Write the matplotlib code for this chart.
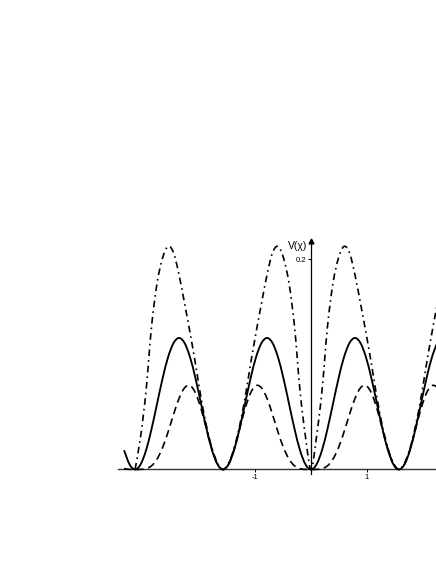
import numpy as np
import matplotlib
matplotlib.use("Agg")
import matplotlib.pyplot as plt
from matplotlib.path import Path
from matplotlib.patches import PathPatch

plt.rcParams['font.family'] = ['Liberation Sans', 'DejaVu Sans']

# sampling grid (chi = k * pi/32)
k_full = np.arange(-34, 25)
k_dd = np.arange(-32, 25)
chi_full = k_full * np.pi / 32
chi_dd = k_dd * np.pi / 32

# solid curve values
v_solid = [0.0183, 0.0048, 0,
           0.0048, 0.0183, 0.0386, 0.0625, 0.0864, 0.1067, 0.1202, 0.125,
           0.1202, 0.1067, 0.0864, 0.0625, 0.0386, 0.0183, 0.0048, 0,
           0.0048, 0.0183, 0.0386, 0.0625, 0.0864, 0.1067, 0.1202, 0.125,
           0.1202, 0.1067, 0.0864, 0.0625, 0.0386, 0.0183, 0.0048,
           0,
           0.0048, 0.0183, 0.0386, 0.0625, 0.0864, 0.1067, 0.1202, 0.125,
           0.1202, 0.1067, 0.0864, 0.0625, 0.0386, 0.0183, 0.0048, 0,
           0.0048, 0.0183, 0.0386, 0.0625, 0.0864, 0.1067, 0.1202, 0.125]

# dashed curve values
v_dashed = [0.0008, 0.0001, 0,
            0.0001, 0.0008, 0.0035, 0.0099, 0.0207, 0.0356, 0.0523, 0.0675,
            0.0776, 0.0797, 0.0726, 0.0576, 0.0382, 0.0190, 0.0051, 0,
            0.0051, 0.0190, 0.0382, 0.0576, 0.0726, 0.0797, 0.0776, 0.0675,
            0.0523, 0.0356, 0.0207, 0.0099, 0.0035, 0.0008, 0.0001,
            0,
            0.0001, 0.0008, 0.0035, 0.0099, 0.0207, 0.0356, 0.0523, 0.0675,
            0.0776, 0.0797, 0.0726, 0.0576, 0.0382, 0.0190, 0.0051, 0,
            0.0051, 0.0190, 0.0382, 0.0576, 0.0726, 0.0797, 0.0776, 0.0675]

# dash-dot curve values
v_dashdot = [0,
             0.031, 0.075, 0.136, 0.177, 0.201, 0.212, 0.206, 0.185,
             0.158, 0.130, 0.100, 0.068, 0.041, 0.020, 0.006, 0,
             0.006, 0.020, 0.041, 0.068, 0.100, 0.130, 0.158, 0.185,
             0.206, 0.212, 0.201, 0.177, 0.136, 0.075, 0.031,
             0,
             0.031, 0.075, 0.136, 0.177, 0.201, 0.212, 0.206, 0.185,
             0.158, 0.130, 0.100, 0.068, 0.041, 0.020, 0.006, 0,
             0.006, 0.020, 0.041, 0.068, 0.100, 0.130, 0.158, 0.185]

x_ticks = [-1, 1]
x_tick_labels = ['-1', '1']
y_ticks = [0.2]
y_tick_labels = ['0.2']


def smooth_path(x, y):
    """Catmull-Rom curve through the given points, as cubic Bezier path."""
    p = np.column_stack([x, y]).astype(float)
    n = len(p)
    verts = [p[0]]
    codes = [Path.MOVETO]
    for i in range(n - 1):
        p0 = p[i - 1] if i > 0 else p[i]
        p1 = p[i]
        p2 = p[i + 1]
        p3 = p[i + 2] if i + 2 < n else p[i + 1]
        c1 = p1 + (p2 - p0) / 6.0
        c2 = p2 - (p3 - p1) / 6.0
        verts += [c1, c2, p2]
        codes += [Path.CURVE4] * 3
    return Path(verts, codes)


fig = plt.figure(figsize=(4.36, 5.64), dpi=100)
ax = fig.add_axes([115 / 436, (564 - 475.8) / 564, 336 / 436, 239.9 / 564])
ax.set_xlim(-3.5, 2.5)
ax.set_ylim(-0.006, 0.222)

ax.add_patch(PathPatch(smooth_path(chi_dd, v_dashdot), fill=False, edgecolor='black',
                       lw=1.2, linestyle=(0, (4, 2.4, 1, 2.4))))
ax.add_patch(PathPatch(smooth_path(chi_full, v_solid), fill=False, edgecolor='black',
                       lw=1.35))
ax.add_patch(PathPatch(smooth_path(chi_full, v_dashed), fill=False, edgecolor='black',
                       lw=1.2, linestyle=(0, (4.5, 2.8))))

for s in ['top', 'right']:
    ax.spines[s].set_visible(False)
ax.spines['bottom'].set_position(('data', 0))
ax.spines['left'].set_position(('data', 0))
ax.spines['bottom'].set_bounds(-3.45, 2.5)
ax.spines['left'].set_bounds(-0.004, 0.216)
ax.spines['bottom'].set_color('#333333')
ax.spines['bottom'].set_linewidth(1.0)
ax.spines['left'].set_linewidth(0.9)
ax.spines['bottom'].set_zorder(0.5)

ax.plot([0], [0.2175], marker='^', color='black', markersize=3.5, clip_on=False)

ax.set_xticks(x_ticks)
ax.set_xticklabels(x_tick_labels)
ax.set_yticks(y_ticks)
ax.set_yticklabels(y_tick_labels)
ax.tick_params(axis='both', direction='out', length=2.5, width=0.7, labelsize=5.5, pad=1)

ax.text(-0.07, 0.2125, 'V(χ)', ha='right', va='center', fontsize=7.5)

fig.savefig('out.png', dpi=100)
